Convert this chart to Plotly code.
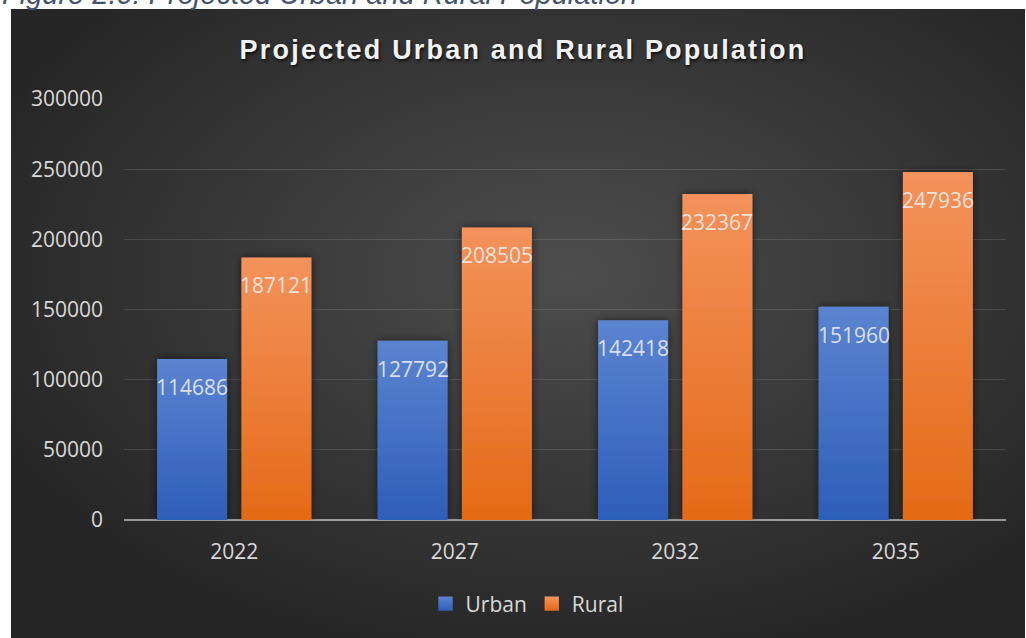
import base64
import plotly.graph_objects as go

# Projected population by year
years = ["2022", "2027", "2032", "2035"]
urban = [114686, 127792, 142418, 151960]
rural = [187121, 208505, 232367, 247936]
y_ticks = [0, 50000, 100000, 150000, 200000, 250000, 300000]
series_names = ["Urban", "Rural"]

W, H = 1026, 638
L, R, T, B = 124, 20, 99, 118
PW, PH = W - L - R, H - T - B

LABEL = "#d9d9d9"
FONT = "Open Sans"
BARGAP = 0.235

fig = go.Figure()
fig.add_trace(go.Bar(x=years, y=urban, name=series_names[0],
                     marker=dict(color="#4472c4", line=dict(width=0)),
                     hoverinfo="skip"))
fig.add_trace(go.Bar(x=years, y=rural, name=series_names[1],
                     marker=dict(color="#ed7d31", line=dict(width=0)),
                     hoverinfo="skip"))

# value labels sitting just inside the top of each bar
# (category axis: annotation x is the category index)
slot = (1 - BARGAP) * (PW / len(years)) / 2
for vals, shift in ((urban, -slot / 2), (rural, slot / 2)):
    for i, v in enumerate(vals):
        fig.add_annotation(x=i, y=v, xref="x", yref="y", text=str(v),
                           showarrow=False, xshift=shift, yshift=-28,
                           yanchor="middle",
                           font=dict(family=FONT, size=21,
                                     color="rgba(242,242,242,0.85)"))

# figure caption above the chart frame
fig.add_annotation(text="Figure 2.0: Projected Urban and Rural Population",
                   xref="paper", yref="paper", x=-L / PW, y=(PH + T + 6) / PH,
                   xanchor="left", yanchor="middle", showarrow=False,
                   font=dict(family="Liberation Sans", size=29, style="italic",
                             color="#44546a"))

# dark radial-gradient chart frame
bg_svg = (
    '<svg xmlns="http://www.w3.org/2000/svg" width="1014" height="629" '
    'viewBox="0 0 1014 629" preserveAspectRatio="none"><defs>'
    '<radialGradient id="g" cx="0.55" cy="0.42" r="0.62">'
    '<stop offset="0" stop-color="#4d4d4d"/><stop offset="1" stop-color="#262626"/>'
    '</radialGradient></defs><rect width="1014" height="629" fill="url(#g)"/></svg>'
)
bg_src = "data:image/svg+xml;base64," + base64.b64encode(bg_svg.encode()).decode()
fx0, fy0, fx1 = 11, 9, 1025
fig.add_layout_image(source=bg_src, xref="paper", yref="paper",
                     x=(fx0 - L) / PW, y=(PH + T - fy0) / PH,
                     sizex=(fx1 - fx0) / PW, sizey=(H - fy0) / PH,
                     xanchor="left", yanchor="top", sizing="stretch",
                     layer="below")

fig.update_layout(
    width=W, height=H,
    margin=dict(l=L, r=R, t=T, b=B),
    paper_bgcolor="white",
    plot_bgcolor="rgba(0,0,0,0)",
    barmode="group", bargap=BARGAP, bargroupgap=0.17,
    title=dict(text="Projected Urban and Rural Population",
               x=523 / W, y=1 - 50 / H, xref="container", yref="container",
               xanchor="center", yanchor="middle",
               font=dict(family="Liberation Sans", size=27, weight="bold",
                         color="#f2f2f2",
                         shadow="1px 2px 3px rgba(0,0,0,0.75)")),
    legend=dict(orientation="h", x=(527 - L) / PW, xanchor="center",
                y=(PH - (604 - T)) / PH, yanchor="middle",
                font=dict(family=FONT, size=21, color=LABEL),
                bgcolor="rgba(0,0,0,0)", itemclick=False),
    xaxis=dict(type="category", range=[-0.5, len(years) - 0.5],
               showgrid=False, showline=False,
               tickfont=dict(family=FONT, size=21, color=LABEL),
               ticklabelstandoff=17),
    yaxis=dict(range=[0, 300000], tickvals=y_ticks,
               ticktext=[str(t) for t in y_ticks],
               showgrid=True, gridcolor="rgba(255,255,255,0.12)", gridwidth=1,
               zeroline=True, zerolinecolor="#9a9a9a", zerolinewidth=2,
               showline=False,
               tickfont=dict(family=FONT, size=21, color=LABEL),
               ticklabelstandoff=20),
    showlegend=True,
)

# vertical shading and soft shadows on the bars, spaced-out title lettering
post = """
var gd = document.getElementById('{plot_id}');
(function () {
  var ns = 'http://www.w3.org/2000/svg';
  var svg = gd.querySelector('svg.main-svg');
  var defs = svg.querySelector('defs');
  function grad(id, top, bottom) {
    var g = document.createElementNS(ns, 'linearGradient');
    g.setAttribute('id', id);
    g.setAttribute('x1', '0'); g.setAttribute('y1', '0');
    g.setAttribute('x2', '0'); g.setAttribute('y2', '1');
    [[0, top], [1, bottom]].forEach(function (s) {
      var st = document.createElementNS(ns, 'stop');
      st.setAttribute('offset', s[0]);
      st.setAttribute('stop-color', s[1]);
      g.appendChild(st);
    });
    defs.appendChild(g);
  }
  grad('fillUrban', '#5b84d0', '#2e5eb8');
  grad('fillRural', '#f4925c', '#e46a16');
  var f = document.createElementNS(ns, 'filter');
  f.setAttribute('id', 'barShadow');
  f.setAttribute('x', '-30%'); f.setAttribute('y', '-10%');
  f.setAttribute('width', '160%'); f.setAttribute('height', '120%');
  var ds = document.createElementNS(ns, 'feDropShadow');
  ds.setAttribute('dx', '0'); ds.setAttribute('dy', '0');
  ds.setAttribute('stdDeviation', '4');
  ds.setAttribute('flood-color', '#000');
  ds.setAttribute('flood-opacity', '0.55');
  f.appendChild(ds);
  defs.appendChild(f);
  var ids = ['fillUrban', 'fillRural'];
  gd.querySelectorAll('.barlayer .trace').forEach(function (t, i) {
    t.querySelectorAll('path').forEach(function (p) {
      p.style.fill = 'url(#' + ids[i] + ')';
      p.setAttribute('filter', 'url(#barShadow)');
    });
  });
  gd.querySelectorAll('.legend .traces').forEach(function (t, i) {
    t.querySelectorAll('.legendpoints path').forEach(function (p) {
      p.setAttribute('transform', 'translate(20,0) scale(1.2)');
      p.style.fill = 'url(#' + ids[i] + ')';
    });
  });
  var title = gd.querySelector('.gtitle');
  if (title) { title.style.letterSpacing = '2.2px'; }
})();
"""

fig.write_html("out.html", post_script=post, config={"displayModeBar": False})
